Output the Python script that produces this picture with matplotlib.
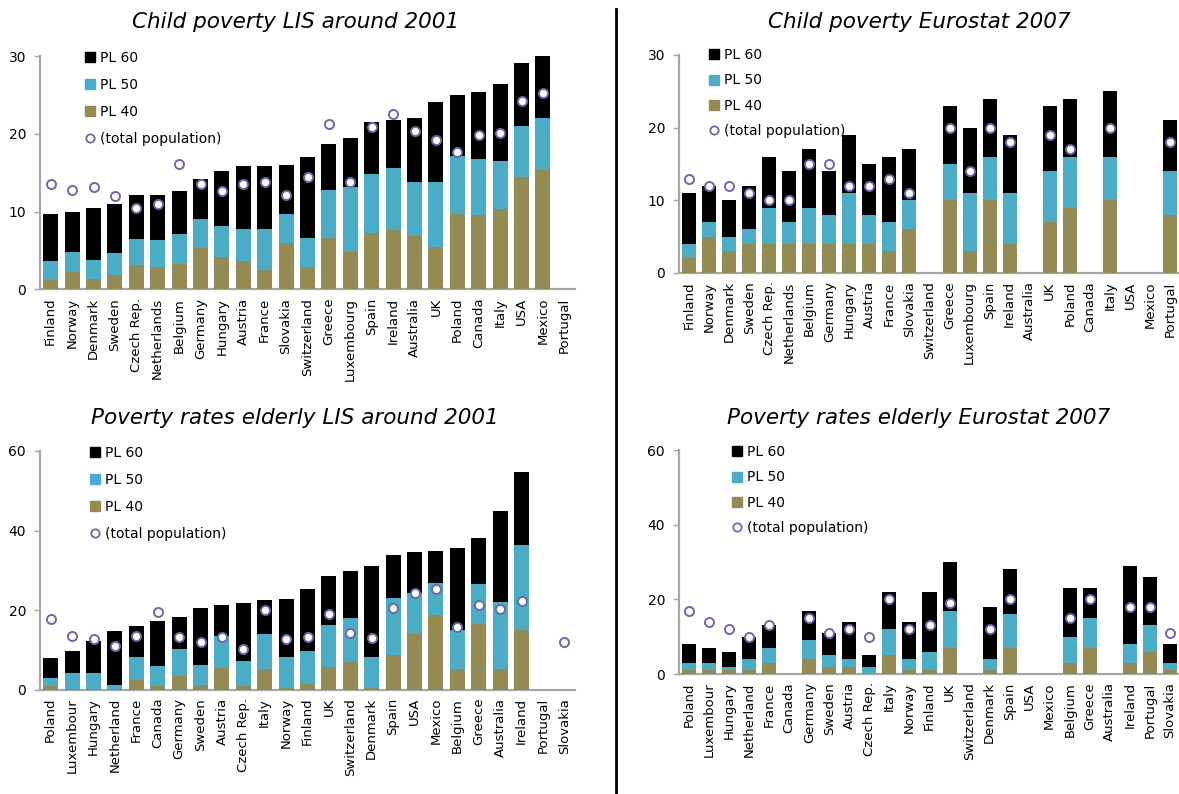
import numpy as np
import matplotlib
matplotlib.use("Agg")
import matplotlib.pyplot as plt
from matplotlib.lines import Line2D

nan = np.nan

# ---------------- data ----------------
countries_child = ["Finland", "Norway", "Denmark", "Sweden", "Czech Rep.", "Netherlands",
                   "Belgium", "Germany", "Hungary", "Austria", "France", "Slovakia",
                   "Switzerland", "Greece", "Luxembourg", "Spain", "Ireland", "Australia",
                   "UK", "Poland", "Canada", "Italy", "USA", "Mexico", "Portugal"]

lis_child_pl60 = [9.7, 10.0, 10.5, 11.0, 12.1, 12.1, 12.6, 14.2, 15.2, 15.9, 15.9, 16.0, 17.0,
                  18.7, 19.5, 21.5, 21.8, 22.0, 24.1, 25.0, 25.4, 26.4, 29.1, 30.1, nan]
lis_child_pl50 = [3.6, 4.8, 3.8, 4.7, 6.5, 6.3, 7.1, 9.0, 8.1, 7.8, 7.8, 9.7, 6.6,
                  12.8, 13.2, 14.8, 15.6, 13.8, 13.8, 17.1, 16.8, 16.5, 21.0, 22.0, nan]
lis_child_pl40 = [1.2, 2.3, 1.3, 1.8, 3.1, 2.9, 3.3, 5.3, 4.2, 3.6, 2.5, 6.0, 2.9,
                  6.6, 4.8, 7.2, 7.6, 6.9, 5.4, 9.7, 9.6, 10.3, 14.4, 15.3, nan]
lis_child_total = [13.6, 12.8, 13.2, 12.0, 10.5, 11.0, 16.1, 13.5, 12.7, 13.5, 13.8, 12.2, 14.5,
                   21.3, 13.8, 20.9, 22.5, 20.4, 19.2, 17.7, 19.9, 20.1, 24.2, 25.3, nan]

eu_child_pl60 = [11, 12, 10, 12, 16, 14, 17, 14, 19, 15, 16, 17, nan,
                 23, 20, 24, 19, nan, 23, 24, nan, 25, nan, nan, 21]
eu_child_pl50 = [4, 7, 5, 6, 9, 7, 9, 8, 11, 8, 7, 10, nan,
                 15, 11, 16, 11, nan, 14, 16, nan, 16, nan, nan, 14]
eu_child_pl40 = [2, 5, 3, 4, 4, 4, 4, 4, 4, 4, 3, 6, nan,
                 10, 3, 10, 4, nan, 7, 9, nan, 10, nan, nan, 8]
eu_child_total = [13, 12, 12, 11, 10, 10, 15, 15, 12, 12, 13, 11, nan,
                  20, 14, 20, 18, nan, 19, 17, nan, 20, nan, nan, 18]

countries_elderly = ["Poland", "Luxembour", "Hungary", "Netherland", "France", "Canada",
                     "Germany", "Sweden", "Austria", "Czech Rep.", "Italy", "Norway",
                     "Finland", "UK", "Switzerland", "Denmark", "Spain", "USA", "Mexico",
                     "Belgium", "Greece", "Australia", "Ireland", "Portugal", "Slovakia"]

lis_eld_pl60 = [8.0, 9.7, 12.2, 14.7, 15.9, 17.2, 18.2, 20.5, 21.2, 21.7, 22.5, 22.7, 25.3,
                28.5, 29.8, 31.0, 33.8, 34.6, 34.8, 35.6, 38.1, 44.9, 54.7, nan, nan]
lis_eld_pl50 = [2.9, 4.1, 4.1, 1.1, 8.1, 6.0, 10.2, 6.2, 13.4, 7.2, 14.0, 8.1, 9.7,
                16.2, 18.0, 8.1, 23.0, 24.3, 26.8, 14.9, 26.5, 22.0, 36.3, nan, nan]
lis_eld_pl40 = [0.9, 0.1, 0.1, 0.2, 2.4, 0.9, 3.4, 1.1, 5.5, 0.9, 5.2, 0.4, 1.4,
                5.6, 6.9, 0.4, 8.6, 14.0, 18.7, 5.1, 16.5, 5.1, 14.9, nan, nan]
lis_eld_total = [17.7, 13.5, 12.6, 11.0, 13.5, 19.6, 13.3, 12.0, 13.3, 10.3, 20.0, 12.6, 13.3,
                 19.0, 14.3, 13.0, 20.5, 24.2, 25.2, 15.8, 21.3, 20.3, 22.2, nan, 12.0]

eu_eld_pl60 = [8, 7, 6, 10, 13, nan, 17, 11, 14, 5, 22, 14, 22,
               30, nan, 18, 28, nan, nan, 23, 23, nan, 29, 26, 8]
eu_eld_pl50 = [3, 3, 2, 4, 7, nan, 9, 5, 4, 2, 12, 4, 6,
               17, nan, 4, 16, nan, nan, 10, 15, nan, 8, 13, 3]
eu_eld_pl40 = [1, 1, 1, 1, 3, nan, 4, 2, 2, 0, 5, 1, 1,
               7, nan, 1, 7, nan, nan, 3, 7, nan, 3, 6, 1]
eu_eld_total = [17, 14, 12, 10, 13, nan, 15, 11, 12, 10, 20, 12, 13,
                19, nan, 12, 20, nan, nan, 15, 20, nan, 18, 18, 11]

# ---------------- style ----------------
C60 = "#000000"
C50 = "#4BACC6"
C40 = "#948A54"
CMK = "#6A6AA8"
SPINE = "#A6A6A6"

W, H = 1179, 794
fig = plt.figure(figsize=(W / 100, H / 100), dpi=100)


def px_axes(left, right, bottom, top):
    return fig.add_axes([left / W, 1 - bottom / H, (right - left) / W, (bottom - top) / H])


def panel(ax, cats, p60, p50, p40, tot, ymax, step, leg_xy, lspace):
    x = np.arange(len(cats))
    p60 = np.array(p60, float); p50 = np.array(p50, float)
    p40 = np.array(p40, float); tot = np.array(tot, float)
    bw = 0.7
    m = ~np.isnan(p60)
    ax.bar(x[m], p60[m], width=bw, color=C60, zorder=2)
    ax.bar(x[m], p50[m], width=bw, color=C50, zorder=3)
    ax.bar(x[m], p40[m], width=bw, color=C40, zorder=4)
    mt = ~np.isnan(tot)
    ax.plot(x[mt], tot[mt], linestyle="none", marker="o", markersize=6.5,
            markerfacecolor="white", markeredgecolor=CMK, markeredgewidth=1.4, zorder=5)
    ax.set_xlim(-0.5, len(cats) - 0.5)
    ax.set_ylim(0, ymax)
    ax.set_yticks(np.arange(0, ymax + 0.1, step))
    ax.set_xticks(x)
    ax.set_xticklabels(cats, rotation=90, fontsize=9.5)
    ax.tick_params(axis="x", length=0, pad=6)
    ax.tick_params(axis="y", length=4, width=1, color=SPINE, labelsize=10, pad=6)
    for s in ["top", "right"]:
        ax.spines[s].set_visible(False)
    for s in ["left", "bottom"]:
        ax.spines[s].set_color(SPINE)
        ax.spines[s].set_linewidth(1.6)
    handles = [Line2D([], [], linestyle="none", marker="s", markersize=7.5, color=C60),
               Line2D([], [], linestyle="none", marker="s", markersize=7.5, color=C50),
               Line2D([], [], linestyle="none", marker="s", markersize=7.5, color=C40),
               Line2D([], [], linestyle="none", marker="o", markersize=6,
                      markerfacecolor="white", markeredgecolor=CMK, markeredgewidth=1.3)]
    ax.legend(handles, ["PL 60", "PL 50", "PL 40", "(total population)"],
              loc="upper left", bbox_to_anchor=(leg_xy[0] / W, 1 - leg_xy[1] / H),
              bbox_transform=fig.transFigure, frameon=False, fontsize=10,
              handlelength=0.8, handletextpad=0.35, labelspacing=lspace, borderpad=0,
              borderaxespad=0)


ax1 = px_axes(40, 575, 289.5, 56)
panel(ax1, countries_child, lis_child_pl60, lis_child_pl50, lis_child_pl40, lis_child_total,
      30, 10, (84, 51), 0.93)
ax2 = px_axes(679, 1180, 273, 55)
panel(ax2, countries_child, eu_child_pl60, eu_child_pl50, eu_child_pl40, eu_child_total,
      30, 10, (708, 48), 0.82)
ax3 = px_axes(40, 575, 689.5, 451)
panel(ax3, countries_elderly, lis_eld_pl60, lis_eld_pl50, lis_eld_pl40, lis_eld_total,
      60, 20, (89, 446), 0.93)
ax4 = px_axes(679, 1180, 674, 450)
panel(ax4, countries_elderly, eu_eld_pl60, eu_eld_pl50, eu_eld_pl40, eu_eld_total,
      60, 20, (731, 445), 0.82)

tkw = dict(fontsize=15.5, style="italic", ha="center", va="center")
fig.text(295 / W, 1 - 22 / H, "Child poverty LIS around 2001", **tkw)
fig.text(919 / W, 1 - 22 / H, "Child poverty Eurostat 2007", **tkw)
fig.text(295 / W, 1 - 418 / H, "Poverty rates elderly LIS around 2001", **tkw)
fig.text(919 / W, 1 - 418 / H, "Poverty rates elderly Eurostat 2007", **tkw)

fig.add_artist(Line2D([615.5 / W, 615.5 / W], [1 - 9 / H, 0], color="black", linewidth=2,
                      transform=fig.transFigure))

fig.savefig("out.png", dpi=100)
